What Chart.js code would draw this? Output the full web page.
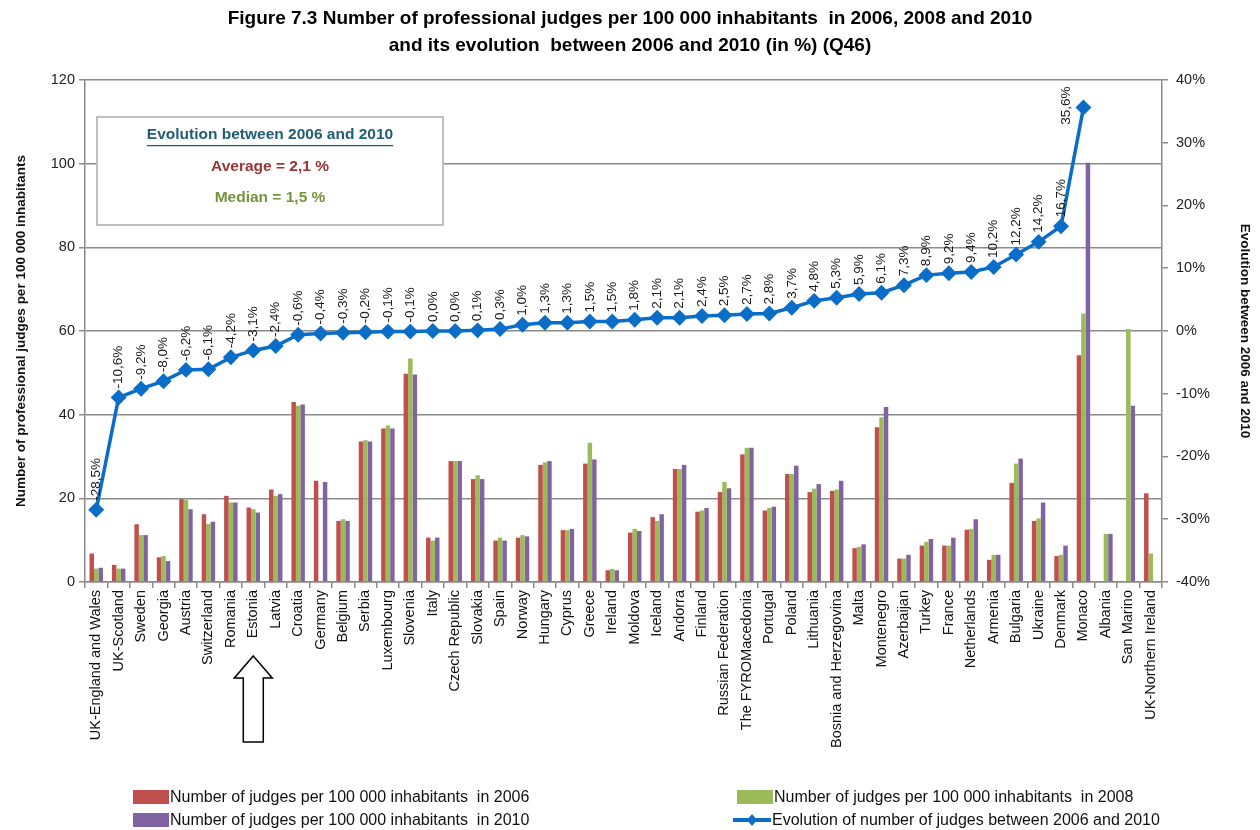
<!DOCTYPE html>
<html>
<head>
<meta charset="utf-8">
<script src="https://cdn.jsdelivr.net/npm/chart.js@4"></script>
<style>
  html, body { margin: 0; padding: 0; background: #fff; }
  #wrap { width: 1260px; height: 830px; }
</style>
</head>
<body>
<div id="wrap"><canvas id="judgesChart" width="1260" height="830"></canvas></div>
<script>
// ---------- DATA ----------
const categories = [
  "UK-England and Wales", "UK-Scotland", "Sweden", "Georgia", "Austria", "Switzerland",
  "Romania", "Estonia", "Latvia", "Croatia", "Germany", "Belgium", "Serbia", "Luxembourg",
  "Slovenia", "Italy", "Czech Republic", "Slovakia", "Spain", "Norway", "Hungary", "Cyprus",
  "Greece", "Ireland", "Moldova", "Iceland", "Andorra", "Finland", "Russian Federation",
  "The FYROMacedonia", "Portugal", "Poland", "Lithuania", "Bosnia and Herzegovina", "Malta",
  "Montenegro", "Azerbaijan", "Turkey", "France", "Netherlands", "Armenia", "Bulgaria",
  "Ukraine", "Denmark", "Monaco", "Albania", "San Marino", "UK-Northern Ireland"
];

const judges2006 = [6.8, 4.1, 13.8, 5.9, 19.8, 16.2, 20.6, 17.8, 22.1, 43.0, 24.2, 14.6, 33.6, 36.7, 49.8, 10.6,
  28.9, 24.6, 9.9, 10.6, 28.0, 12.4, 28.3, 2.8, 11.8, 15.5, 27.0, 16.8, 21.5, 30.5, 17.1, 25.8,
  21.5, 21.8, 8.1, 37.0, 5.6, 8.7, 8.7, 12.5, 5.3, 23.7, 14.6, 6.2, 54.2, null, null, 21.2];

const judges2008 = [3.2, 3.2, 11.2, 6.2, 19.6, 13.9, 19.0, 17.4, 20.6, 42.1, null, 15.0, 33.9, 37.4, 53.4, 9.9,
  28.9, 25.5, 10.6, 11.2, 28.6, 12.4, 33.3, 3.1, 12.7, 14.6, 27.0, 17.1, 23.9, 32.1, 17.7, 25.8,
  22.3, 22.1, 8.4, 39.4, 5.6, 9.6, 8.7, 12.7, 6.5, 28.3, 15.2, 6.5, 64.2, 11.5, 60.5, 6.8];

const judges2010 = [3.4, 3.2, 11.2, 5.0, 17.4, 14.4, 19.0, 16.6, 21.0, 42.4, 23.9, 14.6, 33.6, 36.7, 49.6, 10.6,
  28.9, 24.6, 9.9, 10.9, 28.9, 12.7, 29.3, 2.8, 12.2, 16.2, 28.0, 17.7, 22.4, 32.1, 18.0, 27.8,
  23.4, 24.2, 9.0, 41.8, 6.5, 10.3, 10.6, 15.0, 6.5, 29.5, 19.0, 8.7, 100.2, 11.5, 42.1, null];

// evolution 2006-2010 in %
const evolution = [-28.5, -10.6, -9.2, -8.0, -6.2, -6.1, -4.2, -3.1, -2.4, -0.6, -0.4, -0.3, -0.2, -0.1, -0.1, 0.0,
  0.0, 0.1, 0.3, 1.0, 1.3, 1.3, 1.5, 1.5, 1.8, 2.1, 2.1, 2.4, 2.5, 2.7, 2.8, 3.7,
  4.8, 5.3, 5.9, 6.1, 7.3, 8.9, 9.2, 9.4, 10.2, 12.2, 14.2, 16.7, 35.6, null, null, null];

const leftTicks = [0, 20, 40, 60, 80, 100, 120];
const rightTicks = [-40, -30, -20, -10, 0, 10, 20, 30, 40];

const averageText = "Average = 2,1 %";
const medianText = "Median = 1,5 %";
const highlighted = "Estonia";

const FONT = "'Liberation Sans', Arial, sans-serif";
const NARROW = "'Liberation Sans Narrow', 'Liberation Sans', Arial, sans-serif";

// ---------- PLUGINS ----------

// rotated % labels above the line points
const pointLabels = {
  id: "pointLabels",
  afterDatasetsDraw(chart) {
    const meta = chart.getDatasetMeta(3);
    const ctx = chart.ctx;
    ctx.save();
    ctx.font = "13.5px " + FONT;
    ctx.fillStyle = "#1a1a1a";
    ctx.textBaseline = "middle";
    meta.data.forEach((pt, i) => {
      const v = evolution[i];
      if (v === null) return;
      const txt = v.toFixed(1).replace(".", ",") + "%";
      const w = ctx.measureText(txt).width;
      ctx.save();
      if (pt.y - 9 - w < chart.chartArea.top) {
        // no room above: put it at the left of the point
        ctx.translate(pt.x - 17, pt.y - 2);
        ctx.rotate(-Math.PI / 2);
        ctx.textAlign = "center";
        ctx.fillText(txt, 0, 0);
      } else {
        ctx.translate(pt.x, pt.y - 9);
        ctx.rotate(-Math.PI / 2);
        ctx.textAlign = "left";
        ctx.fillText(txt, 0, 0);
      }
      ctx.restore();
    });
    ctx.restore();
  }
};

// info box + arrow + custom legend
const extras = {
  id: "extras",
  afterDraw(chart) {
    const ctx = chart.ctx;
    const area = chart.chartArea;
    ctx.save();

    // info box
    const bx = area.left + 12, by = area.top + 37, bw = 346, bh = 108;
    ctx.fillStyle = "#fff";
    ctx.fillRect(bx, by, bw, bh);
    ctx.strokeStyle = "#bfbfbf";
    ctx.lineWidth = 2;
    ctx.strokeRect(bx, by, bw, bh);
    const cx = bx + bw / 2;
    ctx.textAlign = "center";
    ctx.textBaseline = "middle";
    ctx.font = "bold 15.5px " + FONT;
    ctx.fillStyle = "#215d74";
    const head = "Evolution between 2006 and 2010";
    ctx.fillText(head, cx, by + 18);
    const hw = ctx.measureText(head).width;
    ctx.fillRect(cx - hw / 2, by + 28, hw, 1.3);
    ctx.fillStyle = "#953735";
    ctx.fillText(averageText, cx, by + 50);
    ctx.fillStyle = "#77933c";
    ctx.fillText(medianText, cx, by + 81);

    // arrow under the highlighted country
    const xs = chart.scales.x;
    const ax = xs.getPixelForValue(categories.indexOf(highlighted));
    const top = 656;
    ctx.beginPath();
    ctx.moveTo(ax, top);
    ctx.lineTo(ax + 19, top + 22);
    ctx.lineTo(ax + 10, top + 22);
    ctx.lineTo(ax + 10, top + 86);
    ctx.lineTo(ax - 10, top + 86);
    ctx.lineTo(ax - 10, top + 22);
    ctx.lineTo(ax - 19, top + 22);
    ctx.closePath();
    ctx.fillStyle = "#fff";
    ctx.fill();
    ctx.strokeStyle = "#000";
    ctx.lineWidth = 1.5;
    ctx.stroke();

    // legend
    const items = [
      { ds: 0, x: 133, y: 797 },
      { ds: 1, x: 737, y: 797 },
      { ds: 2, x: 133, y: 820 },
      { ds: 3, x: 733, y: 820 }
    ];
    ctx.font = "16px " + NARROW;
    ctx.textAlign = "left";
    ctx.textBaseline = "middle";
    items.forEach(it => {
      const d = chart.data.datasets[it.ds];
      if (d.type === "line") {
        ctx.strokeStyle = d.borderColor;
        ctx.lineWidth = 4;
        ctx.beginPath();
        ctx.moveTo(it.x, it.y);
        ctx.lineTo(it.x + 38, it.y);
        ctx.stroke();
        ctx.fillStyle = d.borderColor;
        ctx.beginPath();
        ctx.moveTo(it.x + 19, it.y - 6);
        ctx.lineTo(it.x + 24, it.y);
        ctx.lineTo(it.x + 19, it.y + 6);
        ctx.lineTo(it.x + 14, it.y);
        ctx.closePath();
        ctx.fill();
        ctx.fillStyle = "#111";
        ctx.fillText(d.label, it.x + 39, it.y + 1);
      } else {
        ctx.fillStyle = d.backgroundColor;
        ctx.fillRect(it.x, it.y - 7, 36, 14);
        ctx.fillStyle = "#111";
        ctx.fillText(d.label, it.x + 37, it.y + 1);
      }
    });

    ctx.restore();
  }
};

// ---------- CHART ----------
const ctx = document.getElementById("judgesChart").getContext("2d");
new Chart(ctx, {
  data: {
    labels: categories,
    datasets: [
      {
        type: "bar",
        label: "Number of judges per 100 000 inhabitants  in 2006",
        data: judges2006,
        backgroundColor: "#c0504d",
        yAxisID: "y",
        order: 1
      },
      {
        type: "bar",
        label: "Number of judges per 100 000 inhabitants  in 2008",
        data: judges2008,
        backgroundColor: "#9bbb59",
        yAxisID: "y",
        order: 1
      },
      {
        type: "bar",
        label: "Number of judges per 100 000 inhabitants  in 2010",
        data: judges2010,
        backgroundColor: "#8064a2",
        yAxisID: "y",
        order: 1
      },
      {
        type: "line",
        label: "Evolution of number of judges between 2006 and 2010",
        data: evolution,
        borderColor: "#0a6ec8",
        backgroundColor: "#0a6ec8",
        borderWidth: 3.5,
        pointStyle: "rectRot",
        pointRadius: 5.5,
        pointBackgroundColor: "#0a6ec8",
        pointBorderColor: "#0a6ec8",
        tension: 0,
        yAxisID: "y1",
        order: 0
      }
    ]
  },
  options: {
    responsive: false,
    animation: false,
    layout: { padding: { top: 0, bottom: 80, left: 0, right: 0 } },
    datasets: {
      bar: { categoryPercentage: 0.6, barPercentage: 1.0 }
    },
    plugins: {
      legend: { display: false },
      tooltip: { enabled: false },
      title: {
        display: true,
        text: [
          "Figure 7.3 Number of professional judges per 100 000 inhabitants  in 2006, 2008 and 2010",
          "and its evolution  between 2006 and 2010 (in %) (Q46)"
        ],
        color: "#000",
        font: { family: FONT, size: 19, weight: "bold", lineHeight: 1.42 },
        padding: { top: 5, bottom: 21 }
      }
    },
    scales: {
      x: {
        offset: true,
        grid: { display: true, drawOnChartArea: false, offset: true, tickLength: 6, color: "#8a8a8a", lineWidth: 1.5 },
        border: { display: true, color: "#8a8a8a", width: 1.5 },
        ticks: {
          autoSkip: false,
          minRotation: 90,
          maxRotation: 90,
          padding: 2,
          color: "#111",
          font: { family: FONT, size: 14.5 }
        },
        afterFit(scale) { scale.height = 168; }
      },
      y: {
        position: "left",
        min: 0,
        max: 120,
        afterBuildTicks(scale) { scale.ticks = leftTicks.map(v => ({ value: v })); },
        grid: { color: "#8a8a8a", lineWidth: 1.5, tickLength: 6 },
        border: { display: true, color: "#8a8a8a", width: 1.5 },
        ticks: { color: "#222", padding: 4, font: { family: FONT, size: 14.5 } },
        title: {
          display: true,
          text: "Number of professional judges per 100 000 inhabitants",
          color: "#111",
          font: { family: FONT, size: 13.5, weight: "bold" },
          padding: { top: 13, bottom: 0 }
        },
        afterFit(scale) { scale.width = 85; }
      },
      y1: {
        position: "right",
        min: -40,
        max: 40,
        afterBuildTicks(scale) { scale.ticks = rightTicks.map(v => ({ value: v })); },
        grid: { drawOnChartArea: false, color: "#8a8a8a", lineWidth: 1.5, tickLength: 6 },
        border: { display: true, color: "#8a8a8a", width: 1.5 },
        ticks: {
          color: "#222",
          padding: 8,
          font: { family: FONT, size: 14.5 },
          callback: v => v + "%"
        },
        title: {
          display: true,
          text: "Evolution between 2006 and 2010",
          color: "#111",
          font: { family: FONT, size: 13.5, weight: "bold" },
          padding: { top: 7, bottom: 0 }
        },
        afterFit(scale) { scale.width = 98; }
      }
    }
  },
  plugins: [pointLabels, extras]
});
</script>
</body>
</html>
